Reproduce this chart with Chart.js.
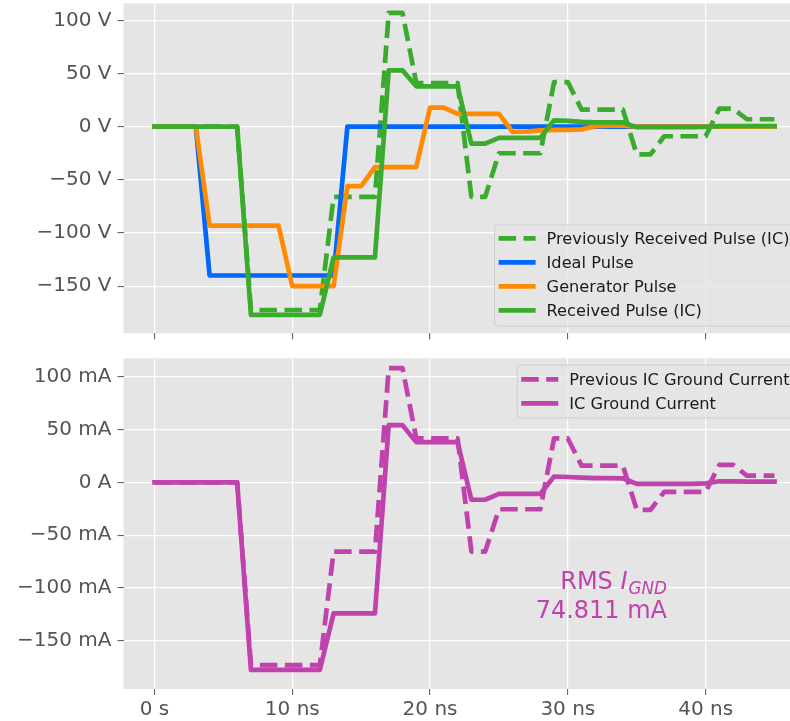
<!DOCTYPE html>
<html>
<head>
<meta charset="utf-8">
<script src="https://cdn.jsdelivr.net/npm/chart.js@4.4.1/dist/chart.umd.min.js"></script>
<style>
  html, body { margin: 0; padding: 0; background: #ffffff; overflow: hidden; }
  #figure { position: relative; width: 790px; height: 721px; overflow: hidden; background: #ffffff; }
  #figure canvas { position: absolute; left: 0; }
  #voltage { top: 0; }
  #current { top: 345px; }
</style>
</head>
<body>
<div id="figure">
  <canvas id="voltage" width="830" height="345" style="width:830px;height:345px"></canvas>
  <canvas id="current" width="830" height="376" style="width:830px;height:376px"></canvas>
</div>
<script>
// Sample times (ns)
const timeNs = [0, 1, 2, 3, 4, 5, 6, 7, 8, 9, 10, 11, 12, 13, 14, 15, 16, 17, 18, 19, 20, 21, 22,
  23, 24, 25, 26, 27, 28, 29, 30, 31, 32, 33, 34, 35, 36, 37, 38, 39, 40, 41, 42, 43, 44, 45];

// Voltage waveforms (V)
const previousReceivedPulse = [0, 0, 0, 0, 0, 0, 0, -172.5, -172.5, -172.5, -172.5, -172.5, -172.5,
  -66, -66, -66, -66, 107, 107, 41, 41, 41, 41, -66, -66, -25, -25, -25, -25, 42, 42,
  16, 16, 16, 16, -26, -26, -9, -9, -9, -9, 17, 17, 7, 7, 7];
const idealPulse = [0, 0, 0, 0, -140, -140, -140, -140, -140, -140, -140, -140, -140, -140,
  0, 0, 0, 0, 0, 0, 0, 0, 0, 0, 0, 0, 0, 0, 0, 0, 0, 0, 0, 0, 0, 0, 0, 0, 0, 0, 0, 0, 0, 0, 0, 0];
const generatorPulse = [0, 0, 0, 0, -93, -93, -93, -93, -93, -93, -150, -150, -150, -150,
  -56, -56, -38, -38, -38, -38, 18, 18, 12, 12, 12, 12, -5, -4.5, -3.5, -3, -3, -2.5,
  0.5, 1, 1, 0, 0, 0, 0, 0, 0, 0, 0, 0, 0, 0];
const receivedPulse = [0, 0, 0, 0, 0, 0, 0, -177, -177, -177, -177, -177, -177,
  -123, -123, -123, -123, 53, 53, 38, 38, 38, 38, -16, -16, -10.5, -10.5, -10.5, -10.5,
  6, 5.5, 4.5, 4, 4, 4, -0.5, -0.5, -0.5, -0.5, -0.5, -0.3, 0.5, 0.5, 0.5, 0.5, 0.5];

// IC ground current waveforms (mA)
const previousGroundCurrent = [0, 0, 0, 0, 0, 0, 0, -173, -173, -173, -173, -173, -173,
  -65.5, -65.5, -65.5, -65.5, 108, 108, 41.5, 41.5, 41.5, 41.5, -65.5, -65.5,
  -25.5, -25.5, -25.5, -25.5, 41.5, 41.5, 15.7, 15.7, 15.7, 15.7, -26, -26,
  -9, -9, -9, -9, 16.5, 16.5, 6.3, 6.3, 6.3];
const groundCurrent = [0, 0, 0, 0, 0, 0, 0, -177.5, -177.5, -177.5, -177.5, -177.5, -177.5,
  -124, -124, -124, -124, 54, 54, 38, 38, 38, 38, -16.5, -16.5, -11, -11, -11, -11,
  5.5, 5, 4.5, 4, 4, 3.8, -1.5, -1.5, -1.5, -1.5, -1.5, -1, 1, 0.8, 0.7, 0.6, 0.6];

const rmsGroundCurrent = '74.811 mA';

// Axis ticks
const timeTicks = [0, 10, 20, 30, 40];
const timeTickLabels = ['0 s', '10 ns', '20 ns', '30 ns', '40 ns'];
const voltTicks = [-150, -100, -50, 0, 50, 100];
const voltTickLabels = ['\u2212150 V', '\u2212100 V', '\u221250 V', '0 V', '50 V', '100 V'];
const currTicks = [-150, -100, -50, 0, 50, 100];
const currTickLabels = ['\u2212150 mA', '\u2212100 mA', '\u221250 mA', '0 A', '50 mA', '100 mA'];

const FONT = '"DejaVu Sans", "Liberation Sans", sans-serif';
const TICK_GREY = '#555555';
const PANEL_GREY = '#e5e5e5';
const LINE_W = 4.7;
const DASH = [17.5, 7.5];

const COLORS = {
  green: '#3aab2c',
  blue: '#0068fa',
  orange: '#ff8c00',
  magenta: '#c043ad'
};

Chart.defaults.font.family = FONT;

function points(values) {
  return timeNs.map((t, i) => ({ x: t, y: values[i] }));
}

function lineSet(label, values, color, dashed, order) {
  return {
    label,
    data: points(values),
    borderColor: color,
    backgroundColor: color,
    borderWidth: LINE_W,
    borderDash: dashed ? DASH : [],
    borderCapStyle: dashed ? 'butt' : 'square',
    borderJoinStyle: 'round',
    pointRadius: 0,
    tension: 0,
    fill: false,
    order
  };
}

// Grey panel behind the grid
const panelPlugin = {
  id: 'panel',
  beforeDraw(chart) {
    const { ctx, chartArea: a } = chart;
    ctx.save();
    ctx.fillStyle = PANEL_GREY;
    ctx.fillRect(a.left, a.top, a.right - a.left, a.bottom - a.top);
    ctx.restore();
  }
};

// Framed legend drawn inside the plot area, anchored to its right edge
const boxLegendPlugin = {
  id: 'boxLegend',
  afterDraw(chart, args, opts) {
    const { ctx, chartArea: a } = chart;
    const sets = chart.data.datasets;
    ctx.save();
    ctx.font = '16.2px ' + FONT;
    const textW = Math.max(...sets.map(s => ctx.measureText(s.label).width));
    const right = a.right - 8;
    const textX = right - 8 - textW;
    const left = textX - 52;
    const top = opts.place === 'lower' ? a.bottom - opts.offset - opts.height : a.top + opts.offset;
    ctx.beginPath();
    ctx.roundRect(left, top, right - left, opts.height, 3);
    ctx.fillStyle = 'rgba(229,229,229,0.8)';
    ctx.fill();
    ctx.strokeStyle = '#cccccc';
    ctx.lineWidth = 1;
    ctx.stroke();
    sets.forEach((s, i) => {
      const y = top + opts.firstRow + i * 24;
      ctx.beginPath();
      ctx.setLineDash(s.borderDash || []);
      ctx.lineCap = 'butt';
      ctx.lineWidth = LINE_W;
      ctx.strokeStyle = s.borderColor;
      ctx.moveTo(left + 4, y);
      ctx.lineTo(left + 41, y);
      ctx.stroke();
      ctx.setLineDash([]);
      ctx.fillStyle = '#1a1a1a';
      ctx.textAlign = 'left';
      ctx.textBaseline = 'alphabetic';
      ctx.fillText(s.label, textX, y + 5.8);
    });
    ctx.restore();
  }
};

// RMS annotation, right-aligned, with italic subscripted symbol
const rmsPlugin = {
  id: 'rmsNote',
  afterDraw(chart) {
    const { ctx, scales } = chart;
    const xr = scales.x.getPixelForValue(37.2);
    const y1 = scales.y.getPixelForValue(-101.2);
    const y2 = scales.y.getPixelForValue(-128.1);
    ctx.save();
    ctx.fillStyle = COLORS.magenta;
    ctx.textBaseline = 'alphabetic';
    const fMain = '24px ' + FONT;
    const fIt = 'italic 24px ' + FONT;
    const fSub = 'italic 16.8px ' + FONT;
    ctx.font = fMain; const wA = ctx.measureText('RMS ').width;
    ctx.font = fIt; const wB = ctx.measureText('I').width + 1;
    ctx.font = fSub; const wC = ctx.measureText('GND').width;
    let x = xr - (wA + wB + wC);
    ctx.textAlign = 'left';
    ctx.font = fMain; ctx.fillText('RMS ', x, y1); x += wA;
    ctx.font = fIt; ctx.fillText('I', x, y1); x += wB;
    ctx.font = fSub; ctx.fillText('GND', x, y1 + 4.5);
    ctx.font = fMain;
    ctx.textAlign = 'right';
    ctx.fillText(rmsGroundCurrent, xr, y2);
    ctx.restore();
  }
};

function xAxis(showLabels, height) {
  return {
    type: 'linear',
    min: -2.25,
    max: 47.25,
    afterBuildTicks: s => { s.ticks = timeTicks.map(v => ({ value: v })); },
    afterFit: s => { s.height = height; s.paddingLeft = 0; s.paddingRight = 0; },
    grid: { color: '#ffffff', lineWidth: 1.2, drawTicks: true, tickLength: 6, tickColor: TICK_GREY, tickWidth: 1 },
    border: { display: false },
    ticks: {
      display: showLabels,
      color: TICK_GREY,
      font: { size: 20, family: FONT },
      padding: 3,
      maxRotation: 0,
      autoSkip: false,
      callback: v => timeTickLabels[timeTicks.indexOf(v)]
    }
  };
}

function yAxis(min, max, tickVals, tickLabels) {
  return {
    type: 'linear',
    min,
    max,
    afterBuildTicks: s => { s.ticks = tickVals.map(v => ({ value: v })); },
    afterFit: s => { s.width = 123.5; s.paddingTop = 0; s.paddingBottom = 0; },
    grid: { color: '#ffffff', lineWidth: 1.2, drawTicks: true, tickLength: 6, tickColor: TICK_GREY, tickWidth: 1 },
    border: { display: false },
    ticks: {
      color: TICK_GREY,
      font: { size: 20, family: FONT },
      padding: 6,
      autoSkip: false,
      callback: v => tickLabels[tickVals.indexOf(v)]
    }
  };
}

const common = {
  responsive: false,
  animation: false,
  events: [],
  plugins: { legend: { display: false }, tooltip: { enabled: false } }
};

new Chart(document.getElementById('voltage'), {
  type: 'line',
  data: {
    datasets: [
      lineSet('Previously Received Pulse (IC)', previousReceivedPulse, COLORS.green, true, 4),
      lineSet('Ideal Pulse', idealPulse, COLORS.blue, false, 3),
      lineSet('Generator Pulse', generatorPulse, COLORS.orange, false, 2),
      lineSet('Received Pulse (IC)', receivedPulse, COLORS.green, false, 1)
    ]
  },
  options: {
    ...common,
    layout: { padding: { left: 0, top: 3.3, right: 24.5, bottom: 0 } },
    plugins: { ...common.plugins, boxLegend: { place: 'lower', offset: 7.3, height: 101, firstRow: 13.3 } },
    scales: {
      x: xAxis(false, 11.7),
      y: yAxis(-194.4, 116.1, voltTicks, voltTickLabels)
    }
  },
  plugins: [panelPlugin, boxLegendPlugin]
});

new Chart(document.getElementById('current'), {
  type: 'line',
  data: {
    datasets: [
      lineSet('Previous IC Ground Current', previousGroundCurrent, COLORS.magenta, true, 2),
      lineSet('IC Ground Current', groundCurrent, COLORS.magenta, false, 1)
    ]
  },
  options: {
    ...common,
    layout: { padding: { left: 0, top: 13.3, right: 24.5, bottom: 0 } },
    plugins: { ...common.plugins, boxLegend: { place: 'upper', offset: 6.7, height: 53, firstRow: 14.3 } },
    scales: {
      x: xAxis(true, 32),
      y: yAxis(-195.5, 117.3, currTicks, currTickLabels)
    }
  },
  plugins: [panelPlugin, boxLegendPlugin, rmsPlugin]
});
</script>
</body>
</html>
